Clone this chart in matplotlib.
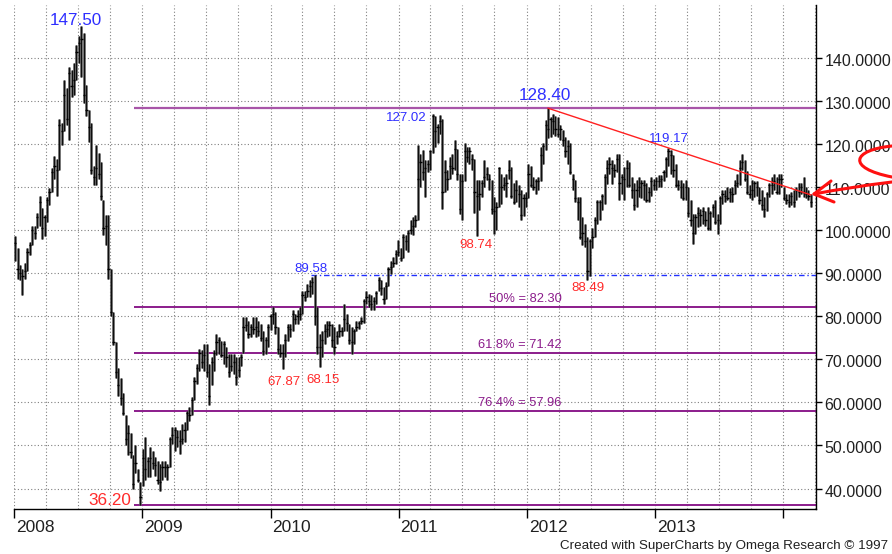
import numpy as np
import matplotlib
matplotlib.use("Agg")
import matplotlib.pyplot as plt
import matplotlib.dates as mdates
import matplotlib.transforms as mtransforms
from matplotlib.path import Path
from matplotlib.patches import PathPatch

plt.rcParams['font.family'] = ['Liberation Sans', 'DejaVu Sans']

# ---------------- data: weekly bars (Friday weeks) ----------------
week_start = '2008-01-04'

high_2008 = [98.8, 96.0, 92.0, 91.0, 92.5, 95.8, 97.2, 101.0, 101.0, 104.0, 108.0, 105.3, 103.5,
             107.7, 109.8, 114.4, 117.4, 116.7, 126.0, 125.0, 135.0, 133.0, 138.0, 137.2, 139.0,
             143.0, 145.3, 147.5, 145.8, 133.7, 128.0, 125.0, 115.0, 119.8, 118.0, 115.8, 107.0,
             103.5, 103.5, 91.0, 81.0, 74.0, 68.0, 65.6, 62.3, 57.0, 54.7, 53.0, 47.7, 50.0, 44.6, 41.4]
low_2008 = [93.0, 88.8, 88.5, 85.0, 88.8, 90.5, 94.2, 96.5, 98.0, 100.5, 101.0, 98.0, 98.8,
            102.0, 105.8, 109.0, 112.0, 108.0, 114.0, 119.8, 123.0, 124.4, 121.0, 131.0, 131.4,
            135.0, 139.0, 135.6, 129.5, 126.7, 120.5, 113.0, 110.5, 110.5, 112.0, 107.0, 99.0,
            96.5, 88.8, 80.2, 73.3, 65.6, 61.6, 59.3, 57.0, 50.0, 47.7, 47.0, 40.0, 43.7, 41.4, 36.2]
close_2008 = [97.0, 91.0, 90.0, 89.5, 90.5, 95.0, 96.5, 100.0, 99.5, 103.0, 106.5, 100.5, 103.0,
              107.0, 109.0, 113.5, 115.0, 114.0, 124.5, 123.0, 131.5, 126.0, 136.5, 133.5, 135.0,
              141.5, 143.5, 144.5, 131.5, 128.0, 124.0, 114.0, 112.5, 114.5, 113.0, 108.0, 100.5,
              101.0, 91.0, 81.0, 74.0, 67.0, 64.0, 61.0, 57.5, 51.5, 53.0, 48.5, 41.0, 46.0, 42.0, 38.0]

high_2009 = [49.3, 52.0, 47.3, 49.6, 48.8, 47.3, 46.5, 45.7, 46.5, 46.5, 45.7, 52.0, 54.3,
             54.3, 53.5, 53.5, 55.0, 55.5, 58.0, 59.0, 61.2, 65.9, 69.0, 72.5, 72.1, 73.6,
             73.6, 69.0, 70.5, 72.1, 76.0, 75.2, 74.4, 74.4, 72.9, 71.3, 71.3, 71.3, 70.5,
             70.5, 71.3, 79.8, 79.8, 79.0, 78.3, 79.8, 79.8, 79.0, 78.3, 76.7, 75.2, 78.3]
low_2009 = [40.7, 42.0, 42.6, 42.6, 44.5, 43.0, 41.0, 39.5, 41.9, 42.6, 41.9, 45.0, 50.4,
            48.8, 49.6, 48.0, 50.4, 50.8, 53.5, 55.8, 57.0, 60.5, 64.3, 67.4, 68.0, 67.4,
            65.9, 59.3, 64.0, 67.4, 71.0, 71.3, 70.5, 69.0, 68.2, 65.9, 67.4, 66.7, 64.0,
            65.9, 68.5, 71.5, 76.7, 75.0, 75.2, 76.0, 75.2, 75.5, 74.4, 71.0, 71.3, 72.9]
close_2009 = [47.0, 44.5, 46.5, 47.0, 46.0, 45.5, 42.0, 41.5, 45.0, 45.0, 45.0, 51.5, 52.5,
              53.5, 52.0, 51.0, 51.5, 53.5, 57.5, 57.0, 60.5, 65.0, 68.0, 71.5, 69.5, 71.0,
              67.0, 61.5, 69.5, 71.5, 74.0, 74.5, 71.0, 73.5, 70.5, 67.0, 68.5, 69.5, 66.0,
              67.5, 70.5, 77.5, 78.0, 76.0, 77.5, 77.0, 77.5, 76.5, 75.0, 72.0, 74.5, 77.5]

high_2010 = [80.5, 82.2, 81.0, 77.5, 73.6, 73.6, 76.0, 78.3, 78.3, 81.4, 80.6, 81.4, 82.2,
             86.0, 86.0, 87.6, 88.4, 89.2, 89.58, 82.2, 76.0, 76.7, 78.3, 79.0, 79.0, 78.3,
             77.5, 76.7, 78.3, 77.5, 83.0, 80.6, 78.3, 77.5, 77.0, 79.0, 79.0, 79.8, 84.0,
             86.0, 85.3, 85.0, 84.5, 86.0, 89.2, 88.5, 86.8, 88.0, 91.5, 93.0, 93.8, 95.4, 97.7]
low_2010 = [76.8, 78.3, 76.0, 71.3, 70.5, 67.87, 70.5, 74.4, 75.2, 76.7, 78.3, 78.3, 79.1,
            80.5, 83.5, 84.5, 84.5, 85.3, 78.0, 71.3, 68.15, 70.5, 73.6, 75.2, 75.5, 72.9,
            71.3, 73.6, 75.2, 75.5, 76.7, 76.7, 73.6, 71.3, 73.5, 76.7, 77.0, 78.3, 78.5,
            83.0, 82.2, 81.5, 81.5, 83.0, 86.0, 85.0, 83.0, 84.0, 87.0, 89.9, 91.5, 92.3, 94.0]
close_2010 = [80.0, 80.5, 77.5, 72.5, 71.5, 71.5, 74.5, 77.5, 77.0, 80.5, 79.5, 80.0, 80.5,
              85.0, 84.5, 86.0, 87.0, 88.0, 80.0, 73.0, 73.0, 74.5, 76.5, 77.0, 78.0, 74.5,
              73.0, 75.5, 76.5, 76.5, 79.5, 78.5, 74.5, 74.0, 76.5, 77.5, 78.5, 79.0, 83.5,
              84.5, 83.5, 83.0, 83.5, 85.5, 88.5, 86.5, 84.0, 87.0, 91.0, 91.5, 92.5, 94.5, 95.0]

high_2011 = [96.0, 99.2, 99.0, 100.0, 102.5, 103.1, 103.5, 119.8, 117.8, 118.6, 116.3, 116.3,
             118.6, 127.02, 126.5, 124.8, 126.8, 126.0, 116.3, 114.0, 117.1, 117.8, 120.9, 119.0,
             113.2, 113.2, 120.2, 119.4, 119.4, 117.8, 116.5, 111.6, 111.6, 111.6, 116.3, 114.7,
             113.2, 111.6, 107.8, 106.5, 114.7, 113.2, 112.4, 113.2, 116.3, 114.7, 110.9, 111.6,
             110.5, 109.3, 108.5, 109.0]
low_2011 = [93.0, 93.5, 95.4, 95.0, 99.2, 99.0, 100.8, 102.5, 110.0, 111.6, 107.8, 113.5,
            114.0, 118.0, 119.4, 120.2, 122.5, 105.0, 109.0, 109.3, 112.0, 113.0, 114.0, 111.6,
            103.9, 102.3, 111.5, 116.0, 115.5, 114.0, 104.0, 98.74, 104.7, 107.8, 110.0, 111.6,
            109.5, 103.9, 99.2, 100.0, 105.5, 106.2, 109.3, 107.8, 112.0, 107.5, 106.2, 106.5,
            105.4, 102.3, 103.3, 105.4]
close_2011 = [93.5, 98.5, 97.5, 99.5, 100.0, 101.0, 102.5, 112.0, 116.0, 113.5, 114.5, 115.5,
              118.5, 126.5, 123.0, 124.0, 125.5, 109.0, 113.5, 112.0, 115.0, 114.5, 119.0, 113.0,
              105.0, 111.5, 118.5, 117.0, 118.5, 116.5, 109.0, 108.0, 108.5, 111.0, 112.5, 113.0,
              112.0, 105.0, 104.5, 105.5, 114.5, 110.0, 110.5, 111.0, 114.0, 108.0, 106.5, 109.5,
              108.5, 103.5, 107.5, 107.5]

high_2012 = [115.5, 115.0, 112.4, 112.0, 112.5, 119.4, 120.2, 125.6, 128.4, 126.4, 127.1, 126.5,
             126.4, 124.5, 123.3, 121.7, 120.9, 120.2, 113.2, 111.6, 107.8, 107.8, 103.1, 101.6,
             98.4, 98.0, 100.5, 103.1, 107.0, 107.0, 108.5, 113.2, 116.3, 117.1, 116.3, 115.5,
             117.8, 117.8, 113.2, 114.7, 116.3, 116.0, 112.4, 110.9, 111.6, 112.4, 111.8, 111.6,
             110.9, 110.0, 112.4, 112.0]
low_2012 = [107.5, 110.0, 109.3, 108.5, 109.3, 111.5, 115.5, 118.6, 121.5, 121.7, 122.5, 122.0,
            121.7, 121.0, 119.5, 117.1, 115.5, 113.0, 109.3, 106.5, 102.3, 98.0, 96.5, 96.1,
            88.49, 89.5, 96.0, 98.4, 101.6, 102.3, 104.7, 106.2, 110.8, 113.2, 110.8, 112.4,
            113.5, 107.0, 108.5, 107.0, 110.1, 110.0, 107.5, 104.7, 105.5, 107.8, 107.5, 107.0,
            106.5, 106.5, 108.0, 109.3]
close_2012 = [113.0, 110.5, 110.0, 111.5, 111.5, 117.5, 119.5, 124.5, 123.5, 126.0, 125.5, 123.5,
              122.5, 123.5, 121.0, 118.5, 119.5, 113.5, 112.0, 107.5, 106.5, 98.5, 99.5, 97.5,
              90.5, 97.5, 98.5, 102.5, 106.5, 106.5, 108.0, 112.5, 114.5, 115.5, 114.5, 114.0,
              116.5, 111.0, 112.5, 112.0, 114.5, 110.5, 109.5, 106.0, 109.5, 110.0, 111.0, 110.5,
              107.0, 109.0, 111.5, 110.5]

high_2013 = [112.5, 112.8, 112.8, 114.0, 117.1, 119.17, 118.6, 117.5, 115.5, 111.6, 111.6, 110.9,
             111.6, 110.1, 107.0, 103.9, 103.9, 105.4, 105.0, 105.4, 104.5, 105.4, 104.5, 106.2,
             107.0, 103.9, 108.0, 109.3, 109.5, 110.1, 109.8, 110.0, 111.6, 113.2, 116.3, 117.8,
             116.3, 113.9, 110.5, 111.6, 111.5, 111.5, 110.1, 109.3, 107.8, 109.0, 110.9, 112.4,
             113.2, 112.5, 113.2, 113.2]
low_2013 = [109.3, 110.0, 110.0, 111.5, 112.5, 115.0, 113.2, 112.5, 110.1, 109.3, 107.5, 107.0,
            107.0, 103.1, 101.0, 96.9, 99.2, 100.8, 101.0, 101.6, 101.0, 100.0, 100.0, 103.1,
            101.6, 99.2, 101.6, 106.2, 106.5, 107.0, 106.5, 106.5, 108.5, 110.1, 110.5, 114.0,
            111.5, 108.5, 107.5, 107.0, 107.8, 108.0, 106.2, 104.7, 103.1, 104.5, 107.8, 108.5,
            109.3, 108.5, 108.5, 110.0]
close_2013 = [111.5, 111.5, 112.0, 113.5, 116.5, 118.5, 117.5, 114.0, 110.5, 110.5, 110.0, 107.5,
              110.0, 104.0, 102.5, 99.5, 103.0, 104.0, 103.5, 104.5, 102.5, 100.5, 104.0, 105.5,
              102.0, 102.5, 107.5, 108.5, 108.0, 107.5, 109.0, 108.5, 110.5, 111.0, 114.5, 116.0,
              112.0, 109.0, 108.5, 109.5, 111.0, 110.0, 107.0, 106.0, 105.0, 108.5, 110.5, 110.5,
              111.5, 109.0, 112.0, 112.0]

high_2014 = [110.1, 108.5, 108.5, 109.0, 109.3, 110.1, 110.9, 110.9, 112.4, 110.0, 109.3, 108.5]
low_2014 = [107.0, 106.2, 105.4, 106.0, 105.4, 107.0, 107.8, 108.5, 107.8, 107.5, 107.0, 105.4]
close_2014 = [107.5, 107.0, 106.5, 108.0, 106.5, 109.5, 109.0, 110.0, 109.0, 108.5, 108.0, 106.5]

fib_ratios = [0.50, 0.618, 0.764]
price_ticks = [40, 50, 60, 70, 80, 90, 100, 110, 120, 130, 140]
year_ticks = ['2008-01-01', '2009-01-01', '2010-01-01', '2011-01-01', '2012-01-01',
              '2013-01-01', '2014-01-01']
year_labels = ['2008', '2009', '2010', '2011', '2012', '2013', '']
credit = 'Created with SuperCharts by Omega Research \u00a9 1997'

# ---------------- assemble ----------------
high = np.array(high_2008 + high_2009 + high_2010 + high_2011 + high_2012 + high_2013 + high_2014)
low = np.array(low_2008 + low_2009 + low_2010 + low_2011 + low_2012 + low_2013 + low_2014)
close = np.array(close_2008 + close_2009 + close_2010 + close_2011 + close_2012 + close_2013 + close_2014)
dates = np.datetime64(week_start) + np.arange(len(high)) * np.timedelta64(7, 'D')
x = mdates.date2num(dates)


def d2n(s):
    return mdates.date2num(np.datetime64(s))


def extreme(start, end, arr, fn):
    idx = np.where((dates >= np.datetime64(start)) & (dates < np.datetime64(end)))[0]
    j = idx[fn(arr[idx])]
    return x[j], arr[j]


W, H = 892, 554
fig = plt.figure(figsize=(W / 100, H / 100), dpi=100)
fig.patch.set_facecolor('white')
ax = fig.add_axes([14 / W, 1 - 509 / H, (816 - 14) / W, (509 - 5) / H])
ax.set_facecolor('white')
x0 = d2n('2008-01-01')
ax.set_xlim(x0, x0 + 2285.5)
ax.set_ylim(35.24, 152.39)

# grid
dot = (0, (1, 2))
for v in price_ticks:
    ax.axhline(v, color='#808080', lw=0.8, ls=dot, zorder=0)
for yr in range(2008, 2015):
    for m in ('01', '04', '07', '10'):
        q = d2n(f'{yr}-{m}-01')
        if q < ax.get_xlim()[1]:
            ax.axvline(q, color='#808080', lw=0.8, ls=dot, zorder=0)

# spines / ticks
for s in ('top', 'left'):
    ax.spines[s].set_visible(False)
for s in ('bottom', 'right'):
    ax.spines[s].set_color('black')
    ax.spines[s].set_linewidth(1.0)
ax.yaxis.tick_right()
ax.set_yticks(price_ticks)
ax.set_yticklabels([])
ax.tick_params(axis='y', direction='out', length=4, width=1, colors='black')
ax.set_xticks([d2n(s) for s in year_ticks])
ax.set_xticklabels([])
ax.tick_params(axis='x', direction='out', length=6.5, width=1, colors='black')

ytr = mtransforms.blended_transform_factory(ax.transAxes, ax.transData) + \
    mtransforms.ScaledTranslation(0.085, -0.08, fig.dpi_scale_trans)
for v in price_ticks:
    ax.text(1.0, v, f'{v:.4f}', transform=ytr, ha='left', va='baseline',
            fontsize=11.5, color='#202020', clip_on=False)
xtr = mtransforms.blended_transform_factory(ax.transData, ax.transAxes) + \
    mtransforms.ScaledTranslation(0.02, -0.23, fig.dpi_scale_trans)
for s, lab in zip(year_ticks, year_labels):
    ax.text(d2n(s), 0, lab, transform=xtr, ha='left', va='baseline',
            fontsize=12.5, color='#202020', clip_on=False)

# price bars
ax.vlines(x, low, high, color='#5a5a5a', lw=1.9, zorder=3)
ax.vlines(x, low, high, color='black', lw=0.6, zorder=3)
ax.hlines(close, x - 3.0, x + 3.5, color='black', lw=1.0, zorder=4)

# key points
p147 = extreme('2008-01-01', '2009-01-01', high, np.argmax)
l36 = extreme('2008-06-01', '2009-06-01', low, np.argmin)
p128 = extreme('2012-01-01', '2013-01-01', high, np.argmax)
p127 = extreme('2011-01-01', '2012-01-01', high, np.argmax)
l98 = extreme('2011-06-01', '2012-01-01', low, np.argmin)
l88 = extreme('2012-01-01', '2013-01-01', low, np.argmin)
l67 = extreme('2010-01-01', '2010-04-01', low, np.argmin)
l68 = extreme('2010-04-01', '2011-01-01', low, np.argmin)
p89 = extreme('2010-01-01', '2010-07-01', high, np.argmax)
p119 = extreme('2013-01-01', '2014-01-01', high, np.argmax)

# retracement lines
hi, lo = p128[1], l36[1]
line_start = d2n('2008-12-08')
xr = ax.get_xlim()[1]
ax.hlines(hi, line_start, xr, color='#A855A8', lw=1.6, zorder=2)
ax.hlines(lo, line_start, xr, color='#8B1C8B', lw=1.4, zorder=2)
fib_lab_x = d2n('2012-04-10')
for r in fib_ratios:
    lvl = round(hi - r * (hi - lo), 2)
    ax.hlines(lvl, line_start, xr, color='#8B1C8B', lw=1.4, zorder=2)
    pct = f'{r * 100:g}%'
    ax.annotate(f'{pct} = {lvl:.2f}', xy=(fib_lab_x, lvl), xytext=(0, 5),
                textcoords='offset pixels', ha='right', va='baseline',
                fontsize=9.3, color='#8B1C8B')

# 89.58 dashed line
ax.hlines(p89[1], p89[0] - 10, xr, color='#2030FF', lw=1.0, ls=(0, (4, 2, 1, 2)), zorder=2)

# red trend line
slope = (p119[1] - p128[1]) / (p119[0] - p128[0])
ax.plot([p128[0], x[-1]], [p128[1], p128[1] + slope * (x[-1] - p128[0])],
        color='#FF2020', lw=1.0, zorder=5)

# value labels
blue, red = '#2E2EFF', '#FF2A2A'


def lab(pt, dx, dy, color, fs):
    ax.annotate(f'{pt[1]:.2f}', xy=pt, xytext=(dx, dy), textcoords='offset pixels',
                ha='center', va='baseline', color=color, fontsize=fs, annotation_clip=False)


lab(p147, -5, 1, blue, 12.3)
lab(p128, -3, 8, blue, 12.3)
lab(l36, -30, 0, red, 12.3)
lab(p127, -26, -7, blue, 9.5)
lab(l98, -1, -12, red, 9.5)
lab(l88, 1, -11, red, 9.5)
lab(l67, 1, -16, red, 9.5)
lab(l68, 3, -16, red, 9.5)
lab(p89, -4, 3, blue, 9.5)
lab(p119, 0, 6, blue, 9.5)

# hand-drawn red arrow (figure pixel coords)
def P(px, py):
    return (px / W, 1 - py / H)


loop = Path([P(892, 146), P(852, 150), P(846, 168), P(892, 177)],
            [Path.MOVETO, Path.CURVE4, Path.CURVE4, Path.CURVE4])
shaft = Path([P(892, 182), P(850, 187), P(814, 194)],
             [Path.MOVETO, Path.CURVE3, Path.CURVE3])
head = Path([P(831, 181), P(814, 194), P(834, 202)],
            [Path.MOVETO, Path.LINETO, Path.LINETO])
for pth in (loop, shaft, head):
    fig.add_artist(PathPatch(pth, transform=fig.transFigure, fill=False,
                             ec='#FF1010', lw=2.2, capstyle='round', joinstyle='round'))

fig.text(888 / W, 1 - 549 / H, credit, ha='right', va='baseline', fontsize=9.6, color='#202020')

fig.savefig('out.png', dpi=100, facecolor='white')
